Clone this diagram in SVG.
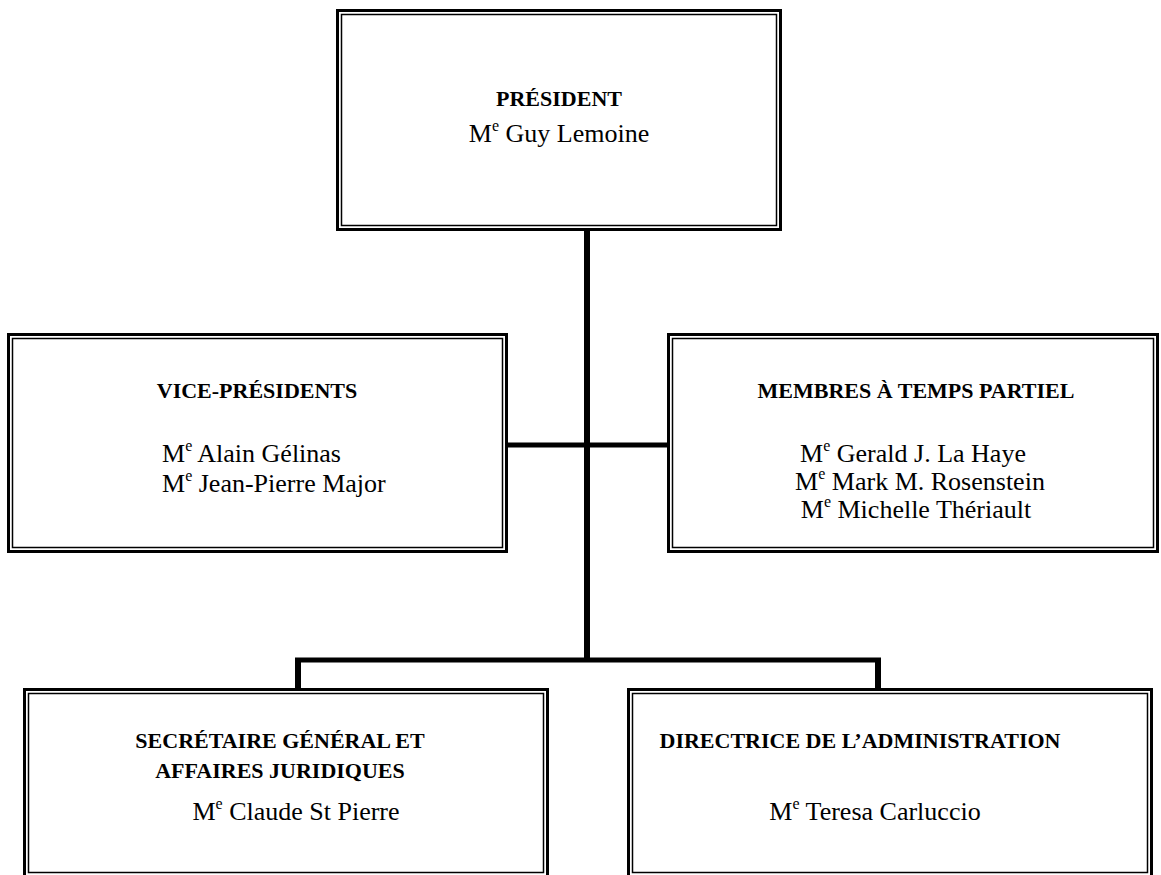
<svg xmlns="http://www.w3.org/2000/svg" width="1161" height="875" viewBox="0 0 1161 875">
<style>
.o{fill:none;stroke:#000;stroke-width:3}
.i{fill:none;stroke:#000;stroke-width:1.5}
.t{font-family:"Liberation Serif","Times New Roman",serif;font-weight:bold;font-size:22px;fill:#000}
.n{font-family:"Liberation Serif","Times New Roman",serif;font-size:26px;fill:#000}
.c{stroke:#000;fill:none}
</style>
<rect width="1161" height="875" fill="#fff"/>
<g id="connectors">
<line class="c" x1="587" y1="231" x2="587" y2="662" stroke-width="6"/>
<line class="c" x1="508" y1="445" x2="667" y2="445" stroke-width="5"/>
<line class="c" x1="295" y1="660" x2="881" y2="660" stroke-width="5"/>
<line class="c" x1="298" y1="658" x2="298" y2="688" stroke-width="6"/>
<line class="c" x1="878" y1="658" x2="878" y2="688" stroke-width="6"/>
</g>
<g id="president">
<rect class="o" x="337.5" y="10.5" width="443" height="219"/>
<rect class="i" x="341.5" y="14.5" width="435" height="211"/>
<text class="t" x="559" y="106" text-anchor="middle">PRÉSIDENT</text>
<text class="n" x="559" y="142" text-anchor="middle">M<tspan font-size="16" dy="-11">e</tspan><tspan dy="11"> Guy Lemoine</tspan></text>
</g>
<g id="vice-presidents">
<rect class="o" x="8.5" y="334.5" width="498" height="217"/>
<rect class="i" x="12.5" y="338.5" width="490" height="209"/>
<text class="t" x="257" y="398" text-anchor="middle">VICE-PRÉSIDENTS</text>
<text class="n" x="162" y="462">M<tspan font-size="16" dy="-11">e</tspan><tspan dy="11"> Alain Gélinas</tspan></text>
<text class="n" x="162" y="492">M<tspan font-size="16" dy="-11">e</tspan><tspan dy="11"> Jean-Pierre Major</tspan></text>
</g>
<g id="membres">
<rect class="o" x="668.5" y="334.5" width="489" height="217"/>
<rect class="i" x="672.5" y="338.5" width="481" height="209"/>
<text class="t" x="916" y="398" text-anchor="middle">MEMBRES À TEMPS PARTIEL</text>
<text class="n" x="913" y="462" text-anchor="middle">M<tspan font-size="16" dy="-11">e</tspan><tspan dy="11"> Gerald J. La Haye</tspan></text>
<text class="n" x="920" y="490" text-anchor="middle">M<tspan font-size="16" dy="-11">e</tspan><tspan dy="11"> Mark M. Rosenstein</tspan></text>
<text class="n" x="916" y="518" text-anchor="middle">M<tspan font-size="16" dy="-11">e</tspan><tspan dy="11"> Michelle Thériault</tspan></text>
</g>
<g id="secretaire">
<rect class="o" x="24.5" y="689.5" width="523" height="188"/>
<rect class="i" x="28.5" y="693.5" width="515" height="179"/>
<text class="t" x="280" y="748" text-anchor="middle">SECRÉTAIRE GÉNÉRAL ET</text>
<text class="t" x="280" y="778" text-anchor="middle">AFFAIRES JURIDIQUES</text>
<text class="n" x="296" y="820" text-anchor="middle">M<tspan font-size="16" dy="-11">e</tspan><tspan dy="11"> Claude St Pierre</tspan></text>
</g>
<g id="directrice">
<rect class="o" x="628.5" y="689.5" width="523" height="188"/>
<rect class="i" x="632.5" y="693.5" width="515" height="179"/>
<text class="t" x="860" y="748" text-anchor="middle">DIRECTRICE DE L’ADMINISTRATION</text>
<text class="n" x="875" y="820" text-anchor="middle">M<tspan font-size="16" dy="-11">e</tspan><tspan dy="11"> Teresa Carluccio</tspan></text>
</g>
</svg>
